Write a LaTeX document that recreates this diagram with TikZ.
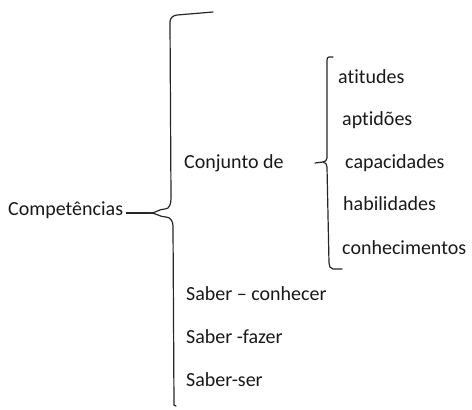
\documentclass[tikz,border=0pt]{standalone}
\usepackage{fontspec}
\setmainfont[RawFeature={-liga}]{Carlito}
\begin{document}
\begin{tikzpicture}[x=1pt,y=-1pt,
  lbl/.style={anchor=base west,inner sep=0pt,font=\fontsize{20}{24}\selectfont,text=black!90},
  brc/.style={line width=1.2pt,draw=black!85,line join=round,line cap=round}]
\useasboundingbox (0,0) rectangle (472,410);
% texts
\node[lbl] (comp) at (8,215) {Competências};
\node[lbl] (conj) at (184,168) {Conjunto de};
\node[lbl] (sc) at (186,300) {Saber – conhecer};
\node[lbl] (sf) at (186,343) {Saber -fazer};
\node[lbl] (ss) at (186,386) {Saber-ser};
\node[lbl] (at) at (338,83) {atitudes};
\node[lbl] (ap) at (342,125.5) {aptidões};
\node[lbl] (ca) at (345,168) {capacidades};
\node[lbl] (ha) at (343,210.5) {habilidades};
\node[lbl] (co) at (342,254) {conhecimentos};
% big brace
\coordinate (bigcusp) at (150,213);
\draw[brc] (213,12) -- (177,15) to[out=185,in=90] (170,22) -- (171,198)
  to[out=270,in=0] (165,209) to[out=180,in=0] (bigcusp);
\draw[brc] (bigcusp) to[out=0,in=180] (166,217) to[out=0,in=90] (173,226) -- (174,405) -- (176,406);
\path (comp.base east) ++(3,-2) coordinate (compend);
\draw[brc] (compend) -- (bigcusp);
% small brace
\coordinate (smallcusp) at (315,163);
\draw[brc] (333,57) -- (329,57) to[out=180,in=90] (327,60) -- (327,158)
  to[out=270,in=0] (323,162) -- (smallcusp);
\draw[brc] (323,162) to[out=0,in=90] (327,167) -- (329,263) to[out=270,in=180] (333,269) -- (342,269);
\end{tikzpicture}
\end{document}
